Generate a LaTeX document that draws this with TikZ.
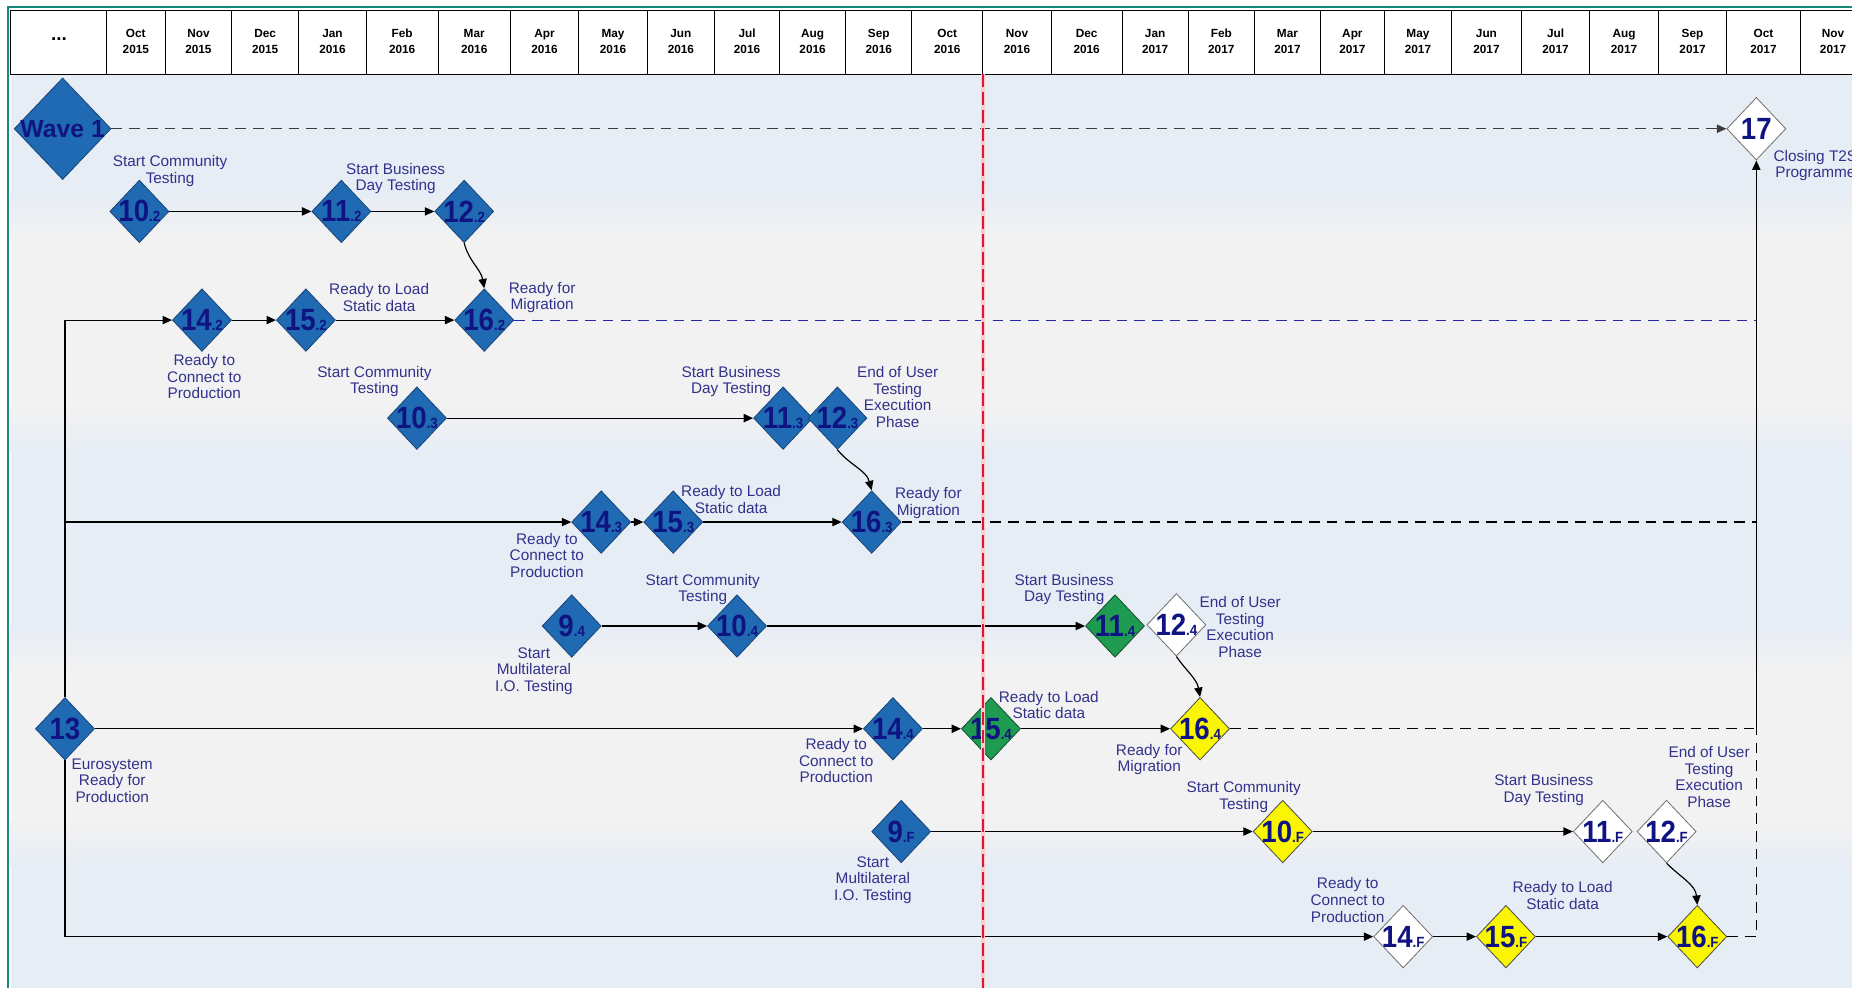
\documentclass[tikz,border=0pt]{standalone}
\usepackage{fontspec}
\setmainfont{Liberation Sans}
\usepackage{graphicx}
\usepackage{tikz}
\usetikzlibrary{arrows,arrows.meta,shapes,positioning}
\definecolor{msblue}{RGB}{31,106,178}
\definecolor{msblueline}{RGB}{25,70,120}
\definecolor{msgreen}{RGB}{30,155,80}
\definecolor{msgreenline}{RGB}{20,80,50}
\definecolor{msyellow}{RGB}{250,245,0}
\definecolor{msnum}{RGB}{16,20,130}
\definecolor{labtext}{RGB}{50,50,140}
\definecolor{bandblue}{RGB}{231,237,245}
\definecolor{bandgray}{RGB}{242,242,242}
\definecolor{frame}{RGB}{20,140,120}
\definecolor{today}{RGB}{225,20,60}
\definecolor{wavedash}{RGB}{60,60,60}
\definecolor{bluedash}{RGB}{40,40,170}
\newcommand{\msn}[2]{\makebox[0pt]{\scalebox{0.9}[1]{\bfseries\fontsize{26}{26}\selectfont #1{\fontsize{12.5}{12.5}\selectfont #2}}}}

\begin{document}
\begin{tikzpicture}[x=1pt,y=-1pt]
                \tikzstyle{every node}+=[inner sep=0pt]
                \tikzstyle{ms}=[diamond, minimum width=50pt, minimum height=53pt, line width=0.7pt, text=msnum]
                \tikzstyle{msb}=[ms, fill=msblue, draw=msblueline]
                \tikzstyle{msg}=[ms, fill=msgreen, draw=msgreenline]
                \tikzstyle{msy}=[ms, fill=msyellow, draw=black!70]
                \tikzstyle{msw}=[ms, fill=white, draw=black!55]
                \tikzstyle{lab}=[text=labtext, align=center, font=\fontsize{13}{14}\selectfont]
                \tikzstyle{hdr}=[align=center, font=\bfseries\fontsize{10}{14}\selectfont]
                \tikzstyle{arr}=[-{Triangle[length=8pt,width=7pt]}, line width=1pt]
                \tikzstyle{dashline}=[dash pattern=on 9pt off 6pt, line width=1pt]
                \path[use as bounding box] (0,0) rectangle (1568,836);
                \clip (0,0) rectangle (1568,836);
                \fill [white] (0,0) rectangle (1568,836);
                \fill [bandblue] (9,63) rectangle (1580,840);
                \shade [top color=bandblue, bottom color=bandgray] (9,163) rectangle (1580,203);
                \fill [bandgray] (9,203) rectangle (1580,343);
                \shade [top color=bandgray, bottom color=bandblue] (9,343) rectangle (1580,383);
                \shade [top color=bandblue, bottom color=bandgray] (9,529) rectangle (1580,569);
                \fill [bandgray] (9,569) rectangle (1580,694);
                \shade [top color=bandgray, bottom color=bandblue] (9,694) rectangle (1580,734);
                \draw [frame, line width=1.8pt] (7,845) -- (7,6) -- (1580,6);
                \fill [white] (9,9) rectangle (1580,63);
                \draw [line width=0.9pt] (9,9) rectangle (90,63);
                \node [font=\bfseries\fontsize{16}{16}\selectfont] (hdots) at (50,33) {...};
                \foreach \a/\b/\m/\y in {90/140/Oct/2015, 140/196/Nov/2015, 196/253/Dec/2015, 253/310/Jan/2016,
                  310/371/Feb/2016, 371/432/Mar/2016, 432/490/Apr/2016, 490/548/May/2016, 548/605/Jun/2016,
                  605/660/Jul/2016, 660/716/Aug/2016, 716/772/Sep/2016, 772/832/Oct/2016, 832/890/Nov/2016,
                  890/950/Dec/2016, 950/1006/Jan/2017, 1006/1062/Feb/2017, 1062/1118/Mar/2017, 1118/1172/Apr/2017,
                  1172/1229/May/2017, 1229/1288/Jun/2017, 1288/1346/Jul/2017, 1346/1404/Aug/2017, 1404/1462/Sep/2017,
                  1462/1524/Oct/2017, 1524/1580/Nov/2017}
                  {\draw [line width=0.9pt] (\a,9) rectangle (\b,63);
                   \node [hdr] (h\a) at ({(\a+\b)/2},35) {\m\\\y};}
                \node [msb, minimum width=82pt, minimum height=86pt] (w1) at (53,109) {\makebox[0pt]{\bfseries\fontsize{21}{21}\selectfont Wave 1}};
                \node [msw] (m17) at (1487,109) {\msn{17}{}};
                \node [msb] (m102) at (118,179) {\msn{10}{.2}};
                \node [msb] (m112) at (289,179) {\msn{11}{.2}};
                \node [msb] (m122) at (393,179) {\msn{12}{.2}};
                \node [msb] (m142) at (171,271) {\msn{14}{.2}};
                \node [msb] (m152) at (259,271) {\msn{15}{.2}};
                \node [msb] (m162) at (410,271) {\msn{16}{.2}};
                \node [msb] (m103) at (353,354) {\msn{10}{.3}};
                \node [msb] (m113) at (663,354) {\msn{11}{.3}};
                \node [msb] (m123) at (709,354) {\msn{12}{.3}};
                \node [msb] (m143) at (509,442) {\msn{14}{.3}};
                \node [msb] (m153) at (570,442) {\msn{15}{.3}};
                \node [msb] (m163) at (738,442) {\msn{16}{.3}};
                \node [msb] (m94) at (484,530) {\msn{9}{.4}};
                \node [msb] (m104) at (624,530) {\msn{10}{.4}};
                \node [msg] (m114) at (944,530) {\msn{11}{.4}};
                \node [msw] (m124) at (996,529) {\msn{12}{.4}};
                \node [msb] (m13) at (55,617) {\msn{13}{}};
                \node [msb] (m144) at (756,617) {\msn{14}{.4}};
                \node [msg] (m154) at (839,617) {\msn{15}{.4}};
                \node [msy] (m164) at (1016,617) {\msn{16}{.4}};
                \node [msb] (m9F) at (763,704) {\msn{9}{.F}};
                \node [msy] (m10F) at (1086,704) {\msn{10}{.F}};
                \node [msw] (m11F) at (1357,704) {\msn{11}{.F}};
                \node [msw] (m12F) at (1411,704) {\msn{12}{.F}};
                \node [msw] (m14F) at (1188,793) {\msn{14}{.F}};
                \node [msy] (m15F) at (1275,793) {\msn{15}{.F}};
                \node [msy] (m16F) at (1437,793) {\msn{16}{.F}};
                \coordinate (k2) at (1487,271);
                \coordinate (k3) at (1487,442);
                \coordinate (k4) at (1487,617);
                \draw [arr, dashline, wavedash] (w1) -- (m17);
                \draw [arr] (m102) -- (m112);
                \draw [arr] (m112) -- (m122);
                \draw [arr] (m122.south) to [out=-75, in=100] (m162.north);
                \draw [arr] (m13) |- (m142);
                \draw [arr] (m13) |- (m143);
                \draw [arr] (m13) -- (m144);
                \draw [arr] (m13) |- (m14F);
                \draw [arr] (m142) -- (m152);
                \draw [arr] (m152) -- (m162);
                \draw [arr] (m103) -- (m113);
                \draw [arr] (m123.south) to [out=-50, in=105] (m163.north);
                \draw [arr] (m143) -- (m153);
                \draw [arr] (m153) -- (m163);
                \draw [arr] (m94) -- (m104);
                \draw [arr] (m104) -- (m114);
                \draw [arr] (m124.south) to [out=-55, in=100] (m164.north);
                \draw [arr] (m144) -- (m154);
                \draw [arr] (m154) -- (m164);
                \draw [arr] (m9F) -- (m10F);
                \draw [arr] (m10F) -- (m11F);
                \draw [arr] (m12F.south) to [out=-45, in=95] (m16F.north);
                \draw [arr] (m14F) -- (m15F);
                \draw [arr] (m15F) -- (m16F);
                \draw [dashline, bluedash] (m162) -- (k2);
                \draw [dashline] (m163) -- (k3);
                \draw [dashline] (m164) -- (k4);
                \draw [dashline] (m16F) -| (k4);
                \draw [arr] (k4) -- (m17);
                \node [lab] (t102) at (144,145) {Start Community\\Testing};
                \node [lab] (t112) at (335,151) {Start Business\\Day Testing};
                \node [lab] (t152) at (321,252) {Ready to Load\\Static data};
                \node [lab] (t162) at (459,252) {Ready for\\Migration};
                \node [lab] (t142) at (173,319) {Ready to\\Connect to\\Production};
                \node [lab] (t103) at (317,323) {Start Community\\Testing};
                \node [lab] (t113) at (619,323) {Start Business\\Day Testing};
                \node [lab] (t123) at (760,336) {End of User\\Testing\\Execution\\Phase};
                \node [lab] (t153) at (619,423) {Ready to Load\\Static data};
                \node [lab] (t163) at (786,426) {Ready for\\Migration};
                \node [lab] (t143) at (463,470) {Ready to\\Connect to\\Production};
                \node [lab] (t104) at (595,499) {Start Community\\Testing};
                \node [lab] (t94) at (452,568) {Start\\Multilateral\\I.O. Testing};
                \node [lab] (t114) at (901,499) {Start Business\\Day Testing};
                \node [lab] (t124) at (1050,531) {End of User\\Testing\\Execution\\Phase};
                \node [lab] (t154) at (888,597) {Ready to Load\\Static data};
                \node [lab] (t164) at (973,643) {Ready for\\Migration};
                \node [lab] (t144) at (708,644) {Ready to\\Connect to\\Production};
                \node [lab] (t13) at (95,661) {Eurosystem\\Ready for\\Production};
                \node [lab] (t10F) at (1053,675) {Start Community\\Testing};
                \node [lab] (t9F) at (739,745) {Start\\Multilateral\\I.O. Testing};
                \node [lab] (t11F) at (1307,669) {Start Business\\Day Testing};
                \node [lab] (t12F) at (1447,658) {End of User\\Testing\\Execution\\Phase};
                \node [lab] (t14F) at (1141,762) {Ready to\\Connect to\\Production};
                \node [lab] (t15F) at (1323,758) {Ready to Load\\Static data};
                \node [lab] (t17) at (1537,140) {Closing T2S\\Programme};
                \draw [pink!80, line width=3.5pt] (832,63) -- (832,840);
                \draw [today, line width=1.7pt, dash pattern=on 11pt off 4pt] (832,63) -- (832,840);
            \end{tikzpicture}
\end{document}
